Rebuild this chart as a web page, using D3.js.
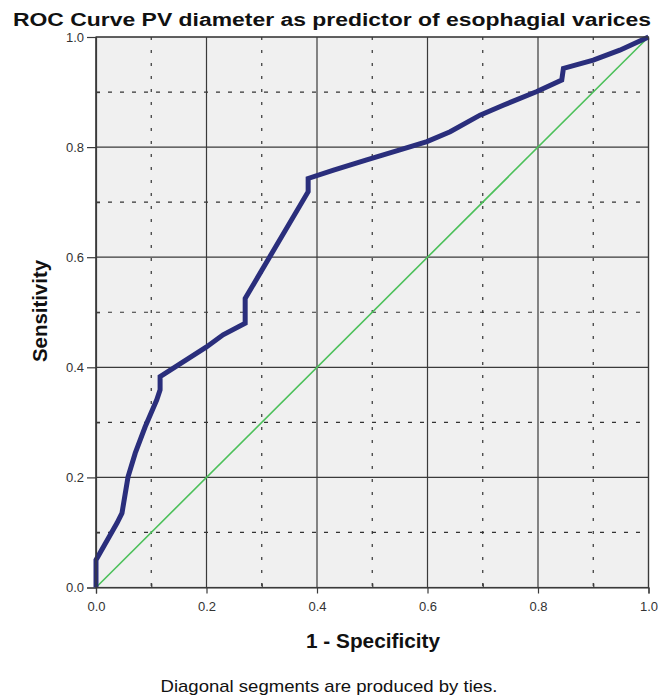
<!DOCTYPE html>
<html><head><meta charset="utf-8">
<script src="https://cdn.jsdelivr.net/npm/d3@7"></script>
<style>body{margin:0;background:#fff}svg{display:block}</style>
</head><body>
<script>
const title = "ROC Curve PV diameter as predictor of esophagial varices";
const xLabel = "1 - Specificity";
const yLabel = "Sensitivity";
const footnote = "Diagonal segments are produced by ties.";
const majorTicks = [0, 0.2, 0.4, 0.6, 0.8, 1.0];
const minorTicks = [0.1, 0.3, 0.5, 0.7, 0.9];
const rocFpr = [0,0,0.038,0.047,0.058,0.071,0.089,0.110,0.116,0.116,0.200,0.230,0.270,0.270,0.384,0.384,0.430,0.490,0.550,0.599,0.641,0.695,0.737,0.798,0.843,0.846,0.900,0.948,1];
const rocTpr = [0,0.05,0.117,0.135,0.201,0.244,0.292,0.341,0.359,0.383,0.437,0.459,0.480,0.525,0.719,0.743,0.758,0.777,0.795,0.810,0.828,0.858,0.876,0.901,0.922,0.943,0.958,0.976,1];
const refFpr = [0,1];
const refTpr = [0,1];

const W=658,H=700;
const L=96,R=648.5,T=37,B=587.5;
const FONT="Liberation Sans, Arial, sans-serif";
const svg=d3.select("body").append("svg").attr("width",W).attr("height",H);
const x=d3.scaleLinear().domain([0,1]).range([L,R]);
const y=d3.scaleLinear().domain([0,1]).range([B,T]);

svg.append("rect").attr("x",L).attr("y",T).attr("width",R-L).attr("height",B-T).attr("fill","#f0f0f0");

const g=svg.append("g");
// minor grid
g.selectAll(".mv").data(minorTicks).join("line").attr("x1",d=>x(d)).attr("x2",d=>x(d)).attr("y1",T).attr("y2",B)
 .attr("stroke","#333").attr("stroke-width",1.2).attr("stroke-dasharray","3,10");
g.selectAll(".mh").data(minorTicks).join("line").attr("y1",d=>y(d)).attr("y2",d=>y(d)).attr("x1",L).attr("x2",R)
 .attr("stroke","#333").attr("stroke-width",1.2).attr("stroke-dasharray","4,8");
// major grid
g.selectAll(".gv").data(majorTicks).join("line").attr("x1",d=>x(d)).attr("x2",d=>x(d)).attr("y1",T).attr("y2",B)
 .attr("stroke","#3a3a3a").attr("stroke-width",1.2);
g.selectAll(".gh").data(majorTicks).join("line").attr("y1",d=>y(d)).attr("y2",d=>y(d)).attr("x1",L).attr("x2",R)
 .attr("stroke","#3a3a3a").attr("stroke-width",1.2);

// minor inward ticks
svg.append("g").attr("transform",`translate(0,${B})`).call(d3.axisTop(x).tickValues(minorTicks).tickFormat("").tickSize(4))
 .call(a=>{a.select(".domain").remove();a.selectAll("line").attr("stroke","#3a3a3a").attr("stroke-width",1.2);});
svg.append("g").attr("transform",`translate(${L},0)`).call(d3.axisRight(y).tickValues(minorTicks).tickFormat("").tickSize(4))
 .call(a=>{a.select(".domain").remove();a.selectAll("line").attr("stroke","#3a3a3a").attr("stroke-width",1.2);});

// axes
const fmt=d3.format(".1f");
const xa=svg.append("g").attr("transform",`translate(0,${B})`).call(d3.axisBottom(x).tickValues(majorTicks).tickFormat(fmt).tickSize(6).tickPadding(8));
const ya=svg.append("g").attr("transform",`translate(${L},0)`).call(d3.axisLeft(y).tickValues(majorTicks).tickFormat(fmt).tickSize(9).tickPadding(3));
[xa,ya].forEach(a=>{a.select(".domain").attr("stroke","#3a3a3a").attr("stroke-width",1.2);
 a.selectAll(".tick line").attr("stroke","#3a3a3a").attr("stroke-width",1.2);
 a.selectAll("text").attr("font-family",FONT).attr("font-size",13).attr("fill","#333");});

// curves
const line=d3.line().x(d=>x(d[0])).y(d=>y(d[1]));
svg.append("path").datum(refFpr.map((v,i)=>[v,refTpr[i]])).attr("d",line).attr("fill","none").attr("stroke","#4cc05a").attr("stroke-width",1.6);
svg.append("path").datum(rocFpr.map((v,i)=>[v,rocTpr[i]])).attr("d",line).attr("fill","none").attr("stroke","#2a2e7c").attr("stroke-width",5).attr("stroke-linejoin","miter");

// frame
svg.append("rect").attr("x",L).attr("y",T).attr("width",R-L).attr("height",B-T).attr("fill","none").attr("stroke","#3a3a3a").attr("stroke-width",1.2);

// texts
svg.append("text").attr("x",332).attr("y",25.5).attr("text-anchor","middle").attr("font-family",FONT)
 .attr("font-weight","bold").attr("font-size",18).attr("fill","#111").attr("textLength",638).attr("lengthAdjust","spacingAndGlyphs").text(title);
svg.append("text").attr("x",373).attr("y",648).attr("text-anchor","middle").attr("font-family",FONT)
 .attr("font-weight","bold").attr("font-size",19.5).attr("fill","#111").attr("textLength",134).attr("lengthAdjust","spacingAndGlyphs").text(xLabel);
svg.append("text").attr("transform","translate(47,311) rotate(-90)").attr("text-anchor","middle").attr("font-family",FONT)
 .attr("font-weight","bold").attr("font-size",19.5).attr("fill","#111").attr("textLength",102).attr("lengthAdjust","spacingAndGlyphs").text(yLabel);
svg.append("text").attr("x",329).attr("y",692).attr("text-anchor","middle").attr("font-family",FONT)
 .attr("font-size",17).attr("fill","#111").attr("textLength",337).attr("lengthAdjust","spacingAndGlyphs").text(footnote);
</script>
</body></html>
